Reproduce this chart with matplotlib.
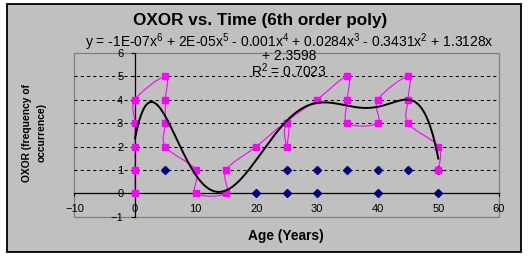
import numpy as np
import matplotlib
matplotlib.use("Agg")
import matplotlib.pyplot as plt
from matplotlib.path import Path
from matplotlib.patches import PathPatch, Rectangle

plt.rcParams['font.family'] = ['Liberation Sans', 'DejaVu Sans']
plt.rcParams['mathtext.fontset'] = 'custom'
plt.rcParams['mathtext.rm'] = 'Liberation Sans'
plt.rcParams['mathtext.it'] = 'Liberation Sans'
plt.rcParams['mathtext.bf'] = 'Liberation Sans:bold'

# magenta series (smoothed line with square markers), in plotting order
age = [0, 0, 0, 0, 0, 5, 5, 5, 5, 10, 10, 15, 15, 20, 25, 25, 25, 30, 35, 35, 35, 40, 40, 45, 45, 45, 50, 50]
oxor = [0, 1, 2, 3, 4, 5, 4, 3, 2, 1, 0, 0, 1, 2, 3, 2, 3, 4, 5, 4, 3, 3, 4, 5, 4, 3, 2, 1]

# navy series (markers only)
age2 = [5, 20, 25, 25, 30, 30, 35, 40, 40, 45, 50, 50]
oxor2 = [1, 0, 0, 1, 0, 1, 1, 0, 1, 1, 0, 1]

# low-order trendline coefficients as printed on the chart (constant, x, x^2)
trend_low = [2.3598, 1.3128, -0.3431]

title = 'OXOR vs. Time (6th order poly)'
eq_line1 = ('y = -1E-07x$^{6}$ + 2E-05x$^{5}$ - 0.001x$^{4}$ + 0.0284x$^{3}$'
            ' - 0.3431x$^{2}$ + 1.3128x')
eq_line2 = '+ 2.3598'
r2_text = 'R$^{2}$ = 0.7023'

W, H = 528, 257
fig = plt.figure(figsize=(W / 100, H / 100), dpi=100)
fig.patch.set_facecolor('white')

# chart area
fig.patches.append(Rectangle((7 / W, 1 - 252 / H), 514 / W, 248 / H, transform=fig.transFigure,
                             facecolor='#c0c0c0', edgecolor='black', lw=1.3, zorder=-5))

ax = fig.add_axes([74.4 / W, 1 - 216.7 / H, (499 - 74.4) / W, (216.7 - 53) / H])
ax.set_facecolor('#c0c0c0')
ax.set_xlim(-10, 60)
ax.set_ylim(-1, 6)

for s in ['top', 'right']:
    ax.spines[s].set_visible(False)
ax.spines['left'].set_position(('data', 0))
ax.spines['bottom'].set_position(('data', 0))
ax.spines['left'].set_linewidth(0.9)
ax.spines['bottom'].set_linewidth(0.9)

# plot-area frame
ax.add_patch(Rectangle((0, 0), 1, 1, transform=ax.transAxes, fill=False,
                       edgecolor='#808080', lw=0.9, zorder=0.5, clip_on=False))

ax.set_xticks(range(-10, 61, 10))
ax.set_yticks(range(-1, 7))
ax.tick_params(axis='x', direction='out', length=2.5, width=0.8, pad=5, labelsize=8)
ax.tick_params(axis='y', direction='out', length=3, width=0.8, pad=5.5, labelsize=8)

for yv in range(1, 6):
    ax.axhline(yv, color='black', lw=0.75, ls=(0, (3, 3)), zorder=1)

# smoothed line (Bezier, Excel style)
pts = np.column_stack([age, oxor]).astype(float)
n = len(pts)
verts = [pts[0]]
codes = [Path.MOVETO]
for i in range(n - 1):
    p0 = pts[i - 1] if i > 0 else pts[i]
    p1 = pts[i]
    p2 = pts[i + 1]
    p3 = pts[i + 2] if i + 2 < n else pts[i + 1]
    c1 = p1 + (p2 - p0) / 6
    c2 = p2 - (p3 - p1) / 6
    verts += [c1, c2, p2]
    codes += [Path.CURVE4] * 3
ax.add_patch(PathPatch(Path(verts, codes), facecolor='none', edgecolor='#ff00ff', lw=0.8, zorder=2))
ax.plot(age, oxor, ls='none', marker='s', ms=5, color='#ff00ff', zorder=4)

ax.plot(age2, oxor2, ls='none', marker='D', ms=3.6, color='#000080', zorder=3)

# 6th order polynomial trendline: printed low-order terms, higher terms fitted to the data
xa = np.array(age, float)
ya = np.array(oxor, float)
low = trend_low[0] + trend_low[1] * xa + trend_low[2] * xa ** 2
A = np.column_stack([xa ** k for k in range(3, 7)])
hi, *_ = np.linalg.lstsq(A, ya - low, rcond=None)
coef = np.concatenate([trend_low, hi])
xs = np.linspace(0, 50, 300)
ax.plot(xs, np.polynomial.polynomial.polyval(xs, coef), color='black', lw=1.4, zorder=5)

fig.text(260 / W, 1 - 21 / H, title, ha='center', va='center', fontsize=12.3, fontweight='bold')
fig.text(289 / W, 1 - 42 / H, eq_line1, ha='center', va='center', fontsize=10)
fig.text(289 / W, 1 - 56 / H, eq_line2, ha='center', va='center', fontsize=10)
fig.text(289 / W, 1 - 71 / H, r2_text, ha='center', va='center', fontsize=10)

fig.text(34 / W, 1 - 133 / H, 'OXOR (frequency of\noccurrence)', rotation=90, ha='center',
         va='center', multialignment='center', fontsize=7.4, fontweight='bold', linespacing=1.6)
fig.text(286 / W, 1 - 236 / H, 'Age (Years)', ha='center', va='center', fontsize=9.9, fontweight='bold')

fig.savefig('out.png', dpi=100)
